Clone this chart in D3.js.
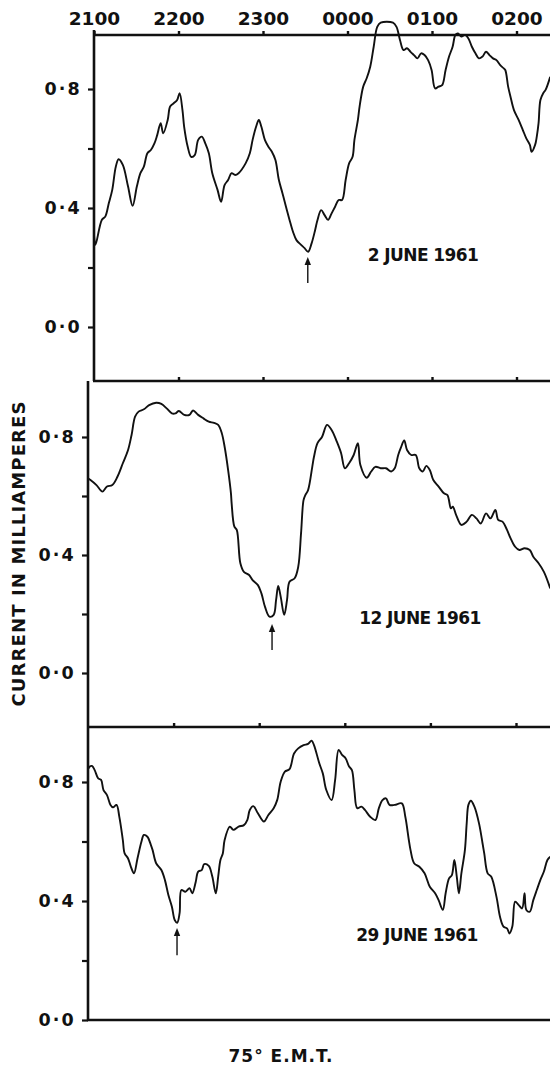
<!DOCTYPE html>
<html><head><meta charset="utf-8">
<script src="https://cdn.jsdelivr.net/npm/d3@7"></script>
<style>
html,body{margin:0;padding:0;background:#fff;}
svg{display:block;}
text{font-family:"DejaVu Sans",sans-serif;font-weight:bold;fill:#111;}
</style></head>
<body>
<svg id="chart" width="550" height="1066"></svg>
<script>
// ---- data (time in hours after 2100, 75° E.M.T.; current in mA) ----
const hourLabels = ["2100","2200","2300","0000","0100","0200"];
const hourTicks = [0,1,2,3,4,5];
const yTicksMajor = [0, 0.4, 0.8];
const yTicksMinor = [0.2, 0.6];
const panelTitles = ["2 JUNE 1961","12 JUNE 1961","29 JUNE 1961"];
const yAxisTitle = "CURRENT IN MILLIAMPERES";
const xAxisTitle = "75° E.M.T.";
// arrows: [time, value at tip, value at tail]
const arrowJune2  = [2.53, 0.235, 0.148];
const arrowJune12 = [2.15, 0.166, 0.078];
const arrowJune29 = [1.04, 0.309, 0.218];

const june2 = [[0,0.309],[0.017,0.276],[0.092,0.36],[0.133,0.371],[0.175,0.416],[0.216,0.461],[0.258,0.539],[0.291,0.564],[0.341,0.545],[0.403,0.472],[0.457,0.407],[0.507,0.472],[0.549,0.517],[0.59,0.539],[0.632,0.584],[0.673,0.595],[0.715,0.617],[0.748,0.645],[0.789,0.685],[0.819,0.651],[0.872,0.696],[0.901,0.741],[0.943,0.752],[0.984,0.763],[1.013,0.786],[1.047,0.729],[1.067,0.673],[1.109,0.606],[1.15,0.572],[1.192,0.578],[1.233,0.629],[1.276,0.64],[1.317,0.617],[1.359,0.584],[1.4,0.517],[1.462,0.461],[1.504,0.421],[1.545,0.477],[1.587,0.494],[1.628,0.517],[1.67,0.511],[1.711,0.517],[1.794,0.55],[1.844,0.584],[1.877,0.629],[1.918,0.673],[1.951,0.696],[1.981,0.673],[2.022,0.629],[2.064,0.606],[2.105,0.589],[2.147,0.561],[2.188,0.494],[2.231,0.449],[2.272,0.404],[2.314,0.36],[2.355,0.32],[2.396,0.292],[2.451,0.276],[2.492,0.265],[2.534,0.253],[2.575,0.281],[2.617,0.326],[2.645,0.36],[2.688,0.393],[2.729,0.376],[2.77,0.36],[2.812,0.382],[2.853,0.404],[2.895,0.427],[2.936,0.427],[2.978,0.494],[3.019,0.55],[3.06,0.572],[3.082,0.629],[3.123,0.696],[3.143,0.741],[3.186,0.808],[3.227,0.836],[3.269,0.875],[3.31,0.942],[3.352,1.009],[3.393,1.023],[3.538,1.023],[3.58,1.009],[3.621,0.965],[3.663,0.931],[3.704,0.937],[3.746,0.925],[3.787,0.914],[3.828,0.903],[3.871,0.92],[3.912,0.914],[3.954,0.897],[3.995,0.864],[4.037,0.802],[4.078,0.808],[4.12,0.813],[4.161,0.864],[4.202,0.909],[4.244,0.942],[4.277,0.982],[4.307,0.987],[4.348,0.976],[4.389,0.982],[4.431,0.97],[4.472,0.942],[4.514,0.92],[4.555,0.903],[4.598,0.909],[4.639,0.925],[4.68,0.914],[4.722,0.903],[4.763,0.897],[4.805,0.881],[4.846,0.87],[4.867,0.864],[4.901,0.808],[4.929,0.774],[4.97,0.729],[5.025,0.696],[5.075,0.662],[5.116,0.634],[5.158,0.612],[5.179,0.589],[5.22,0.612],[5.24,0.64],[5.261,0.685],[5.283,0.763],[5.316,0.786],[5.344,0.797],[5.399,0.841]];

const june12 = [[0,0.66],[0.029,0.654],[0.099,0.637],[0.169,0.615],[0.222,0.632],[0.284,0.637],[0.345,0.666],[0.407,0.711],[0.468,0.756],[0.509,0.807],[0.55,0.869],[0.591,0.886],[0.653,0.894],[0.714,0.908],[0.796,0.916],[0.857,0.912],[0.919,0.897],[0.98,0.88],[1.021,0.88],[1.062,0.888],[1.124,0.875],[1.186,0.875],[1.227,0.89],[1.287,0.875],[1.349,0.863],[1.411,0.852],[1.472,0.848],[1.521,0.841],[1.563,0.813],[1.596,0.767],[1.637,0.688],[1.67,0.609],[1.678,0.575],[1.71,0.496],[1.738,0.485],[1.78,0.372],[1.821,0.343],[1.882,0.332],[1.923,0.315],[1.985,0.298],[2.026,0.27],[2.067,0.225],[2.12,0.191],[2.169,0.197],[2.197,0.247],[2.222,0.295],[2.251,0.259],[2.292,0.197],[2.325,0.247],[2.354,0.309],[2.414,0.321],[2.456,0.36],[2.489,0.474],[2.518,0.586],[2.539,0.603],[2.571,0.62],[2.62,0.699],[2.64,0.733],[2.681,0.779],[2.735,0.801],[2.792,0.841],[2.846,0.824],[2.907,0.784],[2.957,0.745],[3.001,0.694],[3.05,0.711],[3.104,0.739],[3.153,0.779],[3.182,0.705],[3.256,0.662],[3.308,0.683],[3.357,0.699],[3.419,0.694],[3.481,0.694],[3.542,0.683],[3.583,0.694],[3.624,0.739],[3.653,0.762],[3.694,0.788],[3.727,0.756],[3.776,0.739],[3.829,0.739],[3.87,0.694],[3.911,0.683],[3.952,0.702],[3.993,0.688],[4.034,0.654],[4.096,0.632],[4.158,0.609],[4.199,0.603],[4.24,0.558],[4.262,0.564],[4.3,0.536],[4.362,0.502],[4.424,0.513],[4.485,0.536],[4.538,0.524],[4.588,0.507],[4.65,0.541],[4.702,0.524],[4.759,0.553],[4.792,0.519],[4.842,0.513],[4.895,0.485],[4.936,0.457],[4.99,0.428],[5.039,0.417],[5.1,0.423],[5.161,0.417],[5.202,0.394],[5.264,0.372],[5.326,0.343],[5.4,0.287]];

const june29 = [[0.005,0.845],[0.018,0.851],[0.046,0.854],[0.078,0.84],[0.119,0.812],[0.153,0.807],[0.181,0.773],[0.222,0.756],[0.263,0.723],[0.292,0.715],[0.333,0.723],[0.366,0.683],[0.407,0.605],[0.428,0.56],[0.468,0.543],[0.501,0.515],[0.537,0.493],[0.578,0.543],[0.624,0.599],[0.653,0.622],[0.694,0.616],[0.735,0.588],[0.755,0.571],[0.796,0.527],[0.857,0.504],[0.898,0.471],[0.939,0.42],[0.98,0.381],[1.013,0.336],[1.042,0.327],[1.07,0.359],[1.091,0.437],[1.137,0.431],[1.186,0.443],[1.218,0.426],[1.259,0.465],[1.287,0.499],[1.329,0.504],[1.357,0.524],[1.411,0.518],[1.452,0.482],[1.493,0.426],[1.521,0.482],[1.547,0.538],[1.575,0.56],[1.596,0.605],[1.657,0.65],[1.698,0.639],[1.759,0.65],[1.821,0.655],[1.862,0.673],[1.89,0.706],[1.931,0.719],[1.985,0.695],[2.055,0.667],[2.107,0.689],[2.169,0.712],[2.21,0.739],[2.251,0.801],[2.3,0.835],[2.354,0.843],[2.407,0.896],[2.456,0.913],[2.518,0.924],[2.571,0.928],[2.612,0.939],[2.64,0.924],[2.702,0.863],[2.743,0.829],[2.784,0.773],[2.846,0.739],[2.887,0.807],[2.928,0.908],[2.968,0.891],[3.009,0.88],[3.05,0.852],[3.083,0.84],[3.112,0.773],[3.145,0.712],[3.194,0.717],[3.235,0.706],[3.297,0.683],[3.357,0.672],[3.398,0.712],[3.44,0.739],[3.481,0.745],[3.522,0.723],[3.583,0.723],[3.666,0.728],[3.707,0.683],[3.748,0.605],[3.768,0.571],[3.81,0.527],[3.871,0.515],[3.932,0.493],[3.993,0.448],[4.055,0.426],[4.096,0.403],[4.145,0.37],[4.178,0.426],[4.218,0.476],[4.251,0.487],[4.28,0.538],[4.308,0.482],[4.333,0.426],[4.362,0.493],[4.403,0.571],[4.424,0.661],[4.444,0.723],[4.473,0.737],[4.514,0.717],[4.568,0.661],[4.609,0.594],[4.629,0.56],[4.669,0.493],[4.71,0.482],[4.772,0.414],[4.813,0.347],[4.854,0.314],[4.895,0.308],[4.924,0.291],[4.957,0.314],[4.99,0.398],[5.03,0.387],[5.071,0.375],[5.1,0.426],[5.121,0.37],[5.161,0.364],[5.202,0.403],[5.243,0.437],[5.285,0.471],[5.326,0.499],[5.367,0.538],[5.4,0.549]];

// ---- layout (pixels) ----
const W = 550;
const layout = [
  {series: june2,  arrow: arrowJune2,  title: panelTitles[0], top: 35,  bottom: 381,  x0: 94, pxh: 84.5, yZero: 327,  yEight: 89,  topAxis: true,  bottomTicks: true,  tx: 423, ty: 255},
  {series: june12, arrow: arrowJune12, title: panelTitles[1], top: 381, bottom: 727,  x0: 88, pxh: 85.6, yZero: 673,  yEight: 437, topAxis: false, bottomTicks: true,  tx: 420, ty: 618},
  {series: june29, arrow: arrowJune29, title: panelTitles[2], top: 727, bottom: 1020, x0: 88, pxh: 85.6, yZero: 1020, yEight: 782, topAxis: false, bottomTicks: false, tx: 417, ty: 935}
];

const svg = d3.select("#chart");
const ink = "#111";
const fmt = d => d3.format(".1f")(d).replace(".", "·");

layout.forEach(p => {
  const x = d3.scaleLinear().domain([0, 1]).range([p.x0, p.x0 + p.pxh]);
  const y = d3.scaleLinear().domain([0, 0.8]).range([p.yZero, p.yEight]);
  const g = svg.append("g");

  // left axis line (frame)
  g.append("line").attr("x1", p.x0).attr("x2", p.x0)
    .attr("y1", p.top - (p.topAxis ? 5 : 0)).attr("y2", p.bottom)
    .attr("stroke", ink).attr("stroke-width", 2.6);
  // bottom frame line
  g.append("line").attr("x1", p.x0 - 1).attr("x2", W)
    .attr("y1", p.bottom).attr("y2", p.bottom)
    .attr("stroke", ink).attr("stroke-width", 2.6);

  // y ticks
  const yAx = d3.axisLeft(y).tickValues(yTicksMajor.concat(yTicksMinor))
    .tickSize(6).tickPadding(6)
    .tickFormat(d => yTicksMajor.includes(d) ? fmt(d) : "");
  const ya = g.append("g").attr("transform", `translate(${p.x0},0)`).call(yAx);
  ya.select(".domain").remove();
  ya.selectAll(".tick line").attr("stroke", ink).attr("stroke-width", 2.2);
  ya.selectAll(".tick text").attr("font-size", 17.5).attr("letter-spacing", 2.2)
    .style("font-family", "DejaVu Sans").style("font-weight", "bold").attr("fill", ink);

  // top axis for first panel
  if (p.topAxis) {
    g.append("line").attr("x1", p.x0).attr("x2", W)
      .attr("y1", p.top).attr("y2", p.top)
      .attr("stroke", ink).attr("stroke-width", 2.6);
    const xAx = d3.axisTop(x).tickValues(hourTicks).tickSize(4).tickPadding(6)
      .tickFormat((d, i) => hourLabels[i]);
    const xa = g.append("g").attr("transform", `translate(0,${p.top})`).call(xAx);
    xa.select(".domain").remove();
    xa.selectAll(".tick line").attr("stroke", ink).attr("stroke-width", 2.4);
    xa.selectAll(".tick text").attr("font-size", 18.5)
      .style("font-family", "DejaVu Sans").style("font-weight", "bold").attr("fill", ink);
  }
  if (p.bottomTicks) {
    const xb = d3.axisTop(x).tickValues(hourTicks.slice(1)).tickSize(4).tickFormat("");
    const xg = g.append("g").attr("transform", `translate(0,${p.bottom})`).call(xb);
    xg.select(".domain").remove();
    xg.selectAll(".tick line").attr("stroke", ink).attr("stroke-width", 2.4);
  }

  // curve
  const line = d3.line().x(d => x(d[0])).y(d => y(d[1])).curve(d3.curveCatmullRom.alpha(0.5));
  g.append("path").datum(p.series).attr("d", line)
    .attr("fill", "none").attr("stroke", ink).attr("stroke-width", 1.9)
    .attr("stroke-linejoin", "round");

  // arrow
  const [at, av1, av2] = p.arrow;
  const ax = x(at), ay1 = y(av1), ay2 = y(av2);
  g.append("line").attr("x1", ax).attr("x2", ax).attr("y1", ay1 + 3).attr("y2", ay2)
    .attr("stroke", ink).attr("stroke-width", 1.4);
  g.append("path").attr("d", `M${ax},${ay1} L${ax - 3.2},${ay1 + 8} L${ax + 3.2},${ay1 + 8} Z`)
    .attr("fill", ink);

  // panel title
  g.append("text").attr("x", p.tx).attr("y", p.ty).attr("dy", "0.36em")
    .attr("text-anchor", "middle").attr("font-size", 17).attr("letter-spacing", -0.6)
    .text(p.title);
});

// y axis title
svg.append("text")
  .attr("transform", "translate(19,554) rotate(-90)")
  .attr("text-anchor", "middle").attr("dy", "0.36em")
  .attr("font-size", 18).attr("textLength", 305).attr("lengthAdjust", "spacing")
  .text(yAxisTitle);

// x axis title
svg.append("text").attr("x", 281).attr("y", 1056).attr("dy", "0.36em")
  .attr("text-anchor", "middle").attr("font-size", 17).attr("letter-spacing", 1)
  .text(xAxisTitle);
</script>
</body></html>
